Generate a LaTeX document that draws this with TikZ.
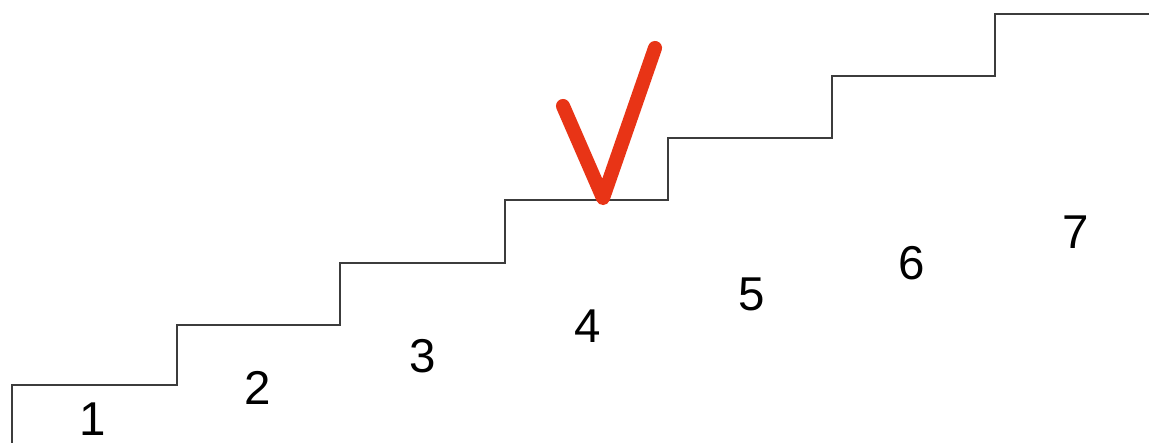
\documentclass[tikz,border=0pt]{standalone}
\usepackage{fontspec}
\setmainfont{Liberation Sans}
\usepackage{tikz}
\definecolor{checkred}{RGB}{232,52,22}
\definecolor{stairgray}{RGB}{60,60,60}
\tikzset{
	stairstyle/.style={draw=stairgray,line width=0.6pt},
	numstyle/.style={font=\fontsize{13.5}{15}\selectfont,inner sep=0pt},
	checkstyle/.style={draw=checkred,line width=4pt,line cap=round,line join=round}
}

\begin{document}
\begin{tikzpicture}[x=0.01cm,y=-0.01cm]
	\useasboundingbox[fill=white] (0,0) rectangle (1149,443);
	% staircase
	\draw[stairstyle] (12,443) -- (12,385)
		-- (177,385) -- (177,325)
		-- (340,325) -- (340,263)
		-- (505,263) -- (505,200)
		-- (668,200) -- (668,138)
		-- (832,138) -- (832,76)
		-- (995,76) -- (995,14)
		-- (1149,14);
	% step numbers
	\node[numstyle] (n1) at (93,419) {1};
	\node[numstyle] (n2) at (258,388) {2};
	\node[numstyle] (n3) at (423,356) {3};
	\node[numstyle] (n4) at (588,326) {4};
	\node[numstyle] (n5) at (752,294) {5};
	\node[numstyle] (n6) at (912,263) {6};
	\node[numstyle] (n7) at (1076,232) {7};
	% check mark
	\draw[checkstyle] (563,106) -- (603,198) -- (655,48);
\end{tikzpicture}
\end{document}
